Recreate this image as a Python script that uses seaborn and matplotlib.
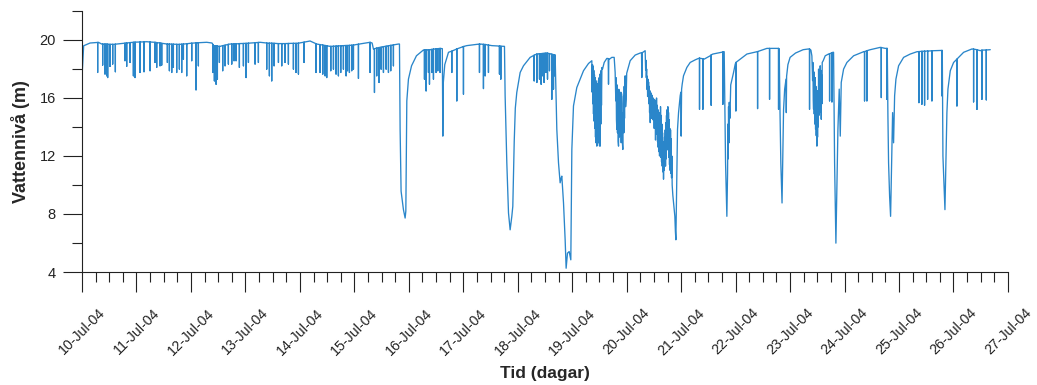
import pandas as pd
import matplotlib
matplotlib.use("Agg")
import matplotlib.pyplot as plt
import matplotlib.dates as mdates
from matplotlib.ticker import FixedLocator
import seaborn as sns

START = pd.Timestamp("2004-07-10")

# Water level trace (day after START, level in metres): slow baseline,
# large drawdowns and the oscillating stretches
trace = [
    (0.000, 17.45), (0.030, 19.60), (0.147, 19.79), (0.300, 19.84), (0.361, 19.72),
    (0.575, 19.70), (0.759, 19.77), (0.943, 19.84), (1.187, 19.88), (1.340, 19.84),
    (1.555, 19.72), (1.800, 19.70), (2.045, 19.79), (2.289, 19.84), (2.387, 19.79),
    (2.412, 19.61), (2.534, 19.56), (2.718, 19.72), (3.024, 19.77), (3.269, 19.84),
    (3.391, 19.79), (3.636, 19.75), (3.942, 19.77), (4.187, 19.93), (4.309, 19.72),
    (4.554, 19.56), (4.983, 19.65), (5.289, 19.84), (5.326, 19.79), (5.350, 19.38),
    (5.473, 19.49), (5.809, 19.72),
    # 15-Jul drawdown
    (5.828, 19.72), (5.840, 13.84), (5.858, 9.57), (5.880, 8.90), (5.901, 8.30),
    (5.932, 7.72), (5.945, 8.20), (5.963, 15.80), (5.993, 17.30), (6.050, 18.22),
    (6.140, 18.91), (6.268, 19.31), (6.391, 19.33), (6.575, 19.42), (6.615, 19.40),
    (6.624, 13.37), (6.632, 17.00), (6.660, 18.30), (6.728, 19.15), (6.881, 19.38),
    (7.064, 19.61), (7.309, 19.72), (7.523, 19.61), (7.738, 19.56),
    # 17-Jul drawdown
    (7.756, 19.56), (7.768, 16.15), (7.799, 11.53), (7.830, 8.07), (7.860, 6.91),
    (7.891, 7.84), (7.909, 8.53), (7.935, 13.00), (7.955, 15.30), (7.982, 16.38),
    (8.044, 17.76), (8.105, 18.22), (8.227, 18.80), (8.350, 19.03), (8.533, 19.10),
    (8.686, 18.96),
    # 18-Jul drawdown
    (8.717, 13.84), (8.748, 11.53), (8.778, 10.15), (8.797, 10.49), (8.809, 10.61),
    (8.821, 9.92), (8.840, 8.76), (8.870, 6.22), (8.888, 4.26), (8.913, 5.30),
    (8.944, 5.41), (8.974, 4.84), (8.993, 12.45), (9.023, 15.45), (9.084, 16.72),
    (9.146, 17.30), (9.207, 17.88), (9.299, 18.38), (9.360, 18.57),
    (9.366, 16.40), (9.372, 18.30), (9.378, 15.60), (9.384, 18.20), (9.390, 14.90),
    (9.396, 17.90), (9.402, 14.40), (9.408, 17.60), (9.414, 13.90), (9.420, 17.40),
    (9.427, 13.30), (9.433, 17.20), (9.439, 12.90), (9.445, 17.00), (9.452, 12.68),
    (9.458, 16.80), (9.464, 13.20), (9.470, 17.00), (9.476, 12.90), (9.482, 17.20),
    (9.488, 13.50), (9.494, 17.40), (9.501, 12.70), (9.507, 17.60), (9.513, 12.68),
    (9.519, 17.70), (9.525, 14.20), (9.531, 17.90), (9.537, 15.50), (9.545, 18.10),
    (9.556, 17.99), (9.587, 18.45), (9.635, 18.73), (9.660, 18.72), (9.666, 16.95),
    (9.672, 18.70), (9.684, 18.68), (9.727, 18.80), (9.770, 18.80), (9.788, 17.76),
    (9.800, 15.80), (9.806, 17.40), (9.812, 14.50), (9.819, 13.84), (9.825, 16.90),
    (9.831, 13.60), (9.837, 16.15), (9.843, 13.00), (9.850, 12.68), (9.856, 16.60),
    (9.862, 13.30), (9.868, 16.38), (9.874, 13.80), (9.880, 16.15), (9.886, 13.40),
    (9.893, 16.40), (9.899, 12.91), (9.905, 16.30), (9.911, 13.20), (9.917, 14.99),
    (9.923, 12.80), (9.929, 12.45), (9.936, 15.60), (9.942, 16.15), (9.948, 13.60),
    (9.954, 16.80), (9.960, 14.60), (9.966, 17.30), (9.972, 17.53), (9.980, 15.40),
    (9.990, 15.91), (10.000, 17.70), (10.021, 17.99), (10.064, 18.57), (10.156, 18.96),
    (10.248, 19.10), (10.272, 19.12), (10.278, 17.41), (10.284, 19.13), (10.297, 19.15),
    (10.339, 19.26),
    # 20-Jul oscillating decline
    (10.348, 17.90), (10.354, 18.60), (10.360, 17.40), (10.366, 18.00), (10.372, 16.60),
    (10.378, 17.50), (10.384, 16.10), (10.390, 17.30), (10.396, 16.30), (10.402, 17.10),
    (10.408, 15.60), (10.414, 16.80), (10.420, 15.00), (10.426, 16.50), (10.432, 14.30),
    (10.438, 16.40), (10.444, 15.20), (10.450, 16.30), (10.456, 14.60), (10.462, 16.20),
    (10.468, 15.00), (10.474, 16.00), (10.480, 14.50), (10.486, 16.00), (10.492, 14.80),
    (10.498, 15.90), (10.505, 13.90), (10.511, 15.90), (10.517, 14.20), (10.523, 15.80),
    (10.529, 13.10), (10.535, 15.60), (10.541, 13.80), (10.548, 16.00), (10.554, 13.50),
    (10.560, 15.50), (10.566, 13.00), (10.572, 15.20), (10.578, 12.60), (10.584, 15.00),
    (10.590, 12.30), (10.597, 14.60), (10.603, 12.00), (10.609, 15.00), (10.615, 12.50),
    (10.621, 15.40), (10.627, 11.90), (10.633, 14.80), (10.640, 11.60), (10.646, 14.20),
    (10.652, 11.30), (10.658, 13.60), (10.664, 10.90), (10.670, 13.00), (10.676, 10.40),
    (10.682, 12.60), (10.689, 11.00), (10.695, 13.30), (10.701, 11.60), (10.707, 13.80),
    (10.713, 11.30), (10.719, 14.30), (10.725, 11.80), (10.731, 14.80), (10.737, 12.50),
    (10.743, 15.20), (10.749, 12.80), (10.756, 15.40), (10.762, 12.40), (10.768, 15.00),
    (10.774, 11.90), (10.780, 14.50), (10.786, 11.40), (10.792, 13.90), (10.798, 11.00),
    (10.805, 13.80), (10.811, 10.80), (10.817, 13.20), (10.823, 10.50), (10.829, 12.00),
    (10.835, 10.00), (10.847, 9.30), (10.860, 8.76), (10.872, 8.30), (10.884, 7.84),
    (10.894, 6.80), (10.903, 6.22), (10.921, 10.61), (10.933, 13.84), (10.952, 14.99),
    (10.982, 16.15), (10.994, 16.40), (11.000, 13.37), (11.008, 16.60), (11.019, 16.95),
    (11.043, 17.53), (11.105, 18.11), (11.166, 18.45), (11.258, 18.63), (11.319, 18.73),
    (11.423, 18.68), (11.533, 18.91), (11.582, 19.03), (11.747, 19.15), (11.790, 19.19),
    # 21-Jul drawdown
    (11.815, 11.53), (11.839, 7.84), (11.852, 10.80), (11.858, 14.20), (11.864, 11.80),
    (11.870, 15.40), (11.876, 12.90), (11.883, 15.70), (11.895, 14.60), (11.910, 16.90),
    (11.962, 17.76), (11.993, 18.34), (12.040, 18.55), (12.084, 18.68), (12.207, 19.03),
    (12.390, 19.19), (12.574, 19.42), (12.758, 19.42),
    # 22-Jul drawdown
    (12.800, 19.38), (12.815, 15.00), (12.830, 11.50), (12.852, 8.76), (12.865, 11.80),
    (12.880, 15.20), (12.900, 16.60), (12.925, 17.30), (12.930, 14.99), (12.936, 17.50),
    (12.960, 18.30), (13.000, 18.80), (13.100, 19.10), (13.240, 19.33), (13.339, 19.38),
    (13.382, 19.30), (13.400, 18.90), (13.413, 17.20), (13.419, 18.45), (13.425, 15.90),
    (13.431, 15.22), (13.437, 17.80), (13.443, 14.90), (13.449, 16.61), (13.455, 14.20),
    (13.462, 17.40), (13.468, 13.84), (13.474, 16.80), (13.480, 13.40), (13.486, 16.15),
    (13.492, 12.68), (13.498, 16.50), (13.504, 13.30), (13.510, 16.15), (13.516, 14.00),
    (13.523, 17.99), (13.529, 14.80), (13.535, 15.45), (13.541, 17.60), (13.547, 15.00),
    (13.553, 18.22), (13.560, 15.30), (13.566, 17.90), (13.572, 14.53), (13.578, 17.60),
    (13.584, 15.60), (13.590, 18.45), (13.608, 18.57), (13.645, 18.91), (13.706, 19.03),
    (13.786, 19.15),
    # 23-Jul drawdown
    (13.798, 19.15), (13.817, 11.53), (13.841, 5.99), (13.859, 9.92), (13.878, 13.84),
    (13.902, 16.61), (13.921, 13.37), (13.939, 17.07), (13.982, 17.99), (14.043, 18.45),
    (14.166, 18.91), (14.349, 19.19), (14.472, 19.33), (14.655, 19.49), (14.747, 19.42),
    (14.784, 19.42),
    # 24-Jul drawdown
    (14.796, 14.76), (14.808, 11.53), (14.827, 9.22), (14.845, 7.84), (14.864, 11.53),
    (14.882, 14.99), (14.900, 12.91), (14.919, 16.15), (14.943, 17.30), (14.992, 18.22),
    (15.084, 18.80), (15.206, 19.03), (15.329, 19.19), (15.635, 19.26), (15.769, 19.28),
    (15.794, 19.28),
    # 25-Jul drawdown
    (15.806, 11.99), (15.824, 10.15), (15.843, 8.30), (15.861, 11.53), (15.879, 14.99),
    (15.898, 16.61), (15.941, 17.88), (16.002, 18.45), (16.051, 18.63), (16.186, 19.15),
    (16.339, 19.38), (16.492, 19.26), (16.675, 19.33),
]

# Short pumping dips: (day, level before the dip, lowest level)
spikes = [
    (0.287, 19.83, 17.76), (0.379, 19.72, 18.27), (0.422, 19.72, 17.65), (0.453, 19.71, 17.53),
    (0.471, 19.71, 17.41), (0.514, 19.70, 18.18), (0.563, 19.70, 18.34), (0.612, 19.71, 17.81),
    (0.789, 19.78, 18.57), (0.820, 19.79, 18.18), (0.881, 19.82, 18.45), (0.943, 19.84, 17.53),
    (0.973, 19.85, 17.41), (1.065, 19.86, 17.76), (1.138, 19.87, 17.81), (1.249, 19.86, 17.88),
    (1.340, 19.84, 18.45), (1.371, 19.82, 18.11), (1.432, 19.79, 18.22), (1.463, 19.77, 18.27),
    (1.567, 19.72, 18.45), (1.604, 19.72, 17.88), (1.647, 19.71, 17.76), (1.677, 19.71, 18.11),
    (1.738, 19.70, 17.76), (1.787, 19.70, 17.99), (1.830, 19.71, 17.76), (1.861, 19.72, 18.68),
    (1.922, 19.74, 17.53), (2.014, 19.78, 18.57), (2.093, 19.80, 16.56), (2.136, 19.81, 18.22),
    (2.400, 19.70, 17.76), (2.430, 19.60, 17.18), (2.461, 19.59, 16.95), (2.485, 19.58, 17.30),
    (2.522, 19.56, 18.45), (2.583, 19.61, 17.88), (2.626, 19.64, 18.22), (2.687, 19.70, 18.34),
    (2.749, 19.72, 18.34), (2.791, 19.73, 18.57), (2.828, 19.73, 18.57), (2.889, 19.75, 18.11),
    (2.963, 19.76, 18.22), (3.012, 19.77, 17.41), (3.055, 19.78, 18.45), (3.177, 19.81, 18.34),
    (3.238, 19.83, 18.45), (3.391, 19.79, 17.99), (3.440, 19.78, 17.53), (3.483, 19.78, 17.18),
    (3.526, 19.77, 18.22), (3.606, 19.75, 18.45), (3.667, 19.75, 18.22), (3.728, 19.75, 18.45),
    (3.789, 19.76, 18.34), (3.881, 19.77, 17.99), (3.930, 19.77, 17.76), (3.973, 19.78, 17.65),
    (4.077, 19.85, 18.45),
    (4.297, 19.74, 17.76), (4.371, 19.68, 17.76), (4.420, 19.65, 17.65), (4.463, 19.62, 17.53),
    (4.493, 19.60, 17.41), (4.567, 19.56, 17.88), (4.616, 19.57, 17.99), (4.664, 19.58, 17.65),
    (4.707, 19.59, 17.53), (4.750, 19.60, 17.76), (4.799, 19.61, 17.99), (4.848, 19.62, 17.53),
    (4.873, 19.62, 17.88), (4.909, 19.63, 17.76), (4.952, 19.64, 17.88), (4.983, 19.65, 17.99),
    (5.075, 19.71, 17.35), (5.289, 19.84, 17.76), (5.369, 19.40, 16.38), (5.411, 19.44, 17.53),
    (5.454, 19.48, 17.07), (5.491, 19.50, 17.99), (5.534, 19.54, 17.76), (5.583, 19.57, 17.99),
    (5.626, 19.60, 17.76), (5.668, 19.63, 17.88), (5.717, 19.66, 18.22),
    (6.287, 19.31, 17.30), (6.317, 19.32, 16.49), (6.360, 19.32, 17.76), (6.379, 19.33, 16.95),
    (6.421, 19.35, 17.76), (6.452, 19.37, 17.30), (6.501, 19.39, 17.76), (6.532, 19.40, 17.88),
    (6.575, 19.42, 17.76), (6.789, 19.23, 17.76), (6.881, 19.38, 15.80), (7.003, 19.55, 16.26),
    (7.297, 19.72, 17.76), (7.370, 19.70, 16.65), (7.401, 19.69, 17.53), (7.462, 19.65, 17.76),
    (7.664, 19.58, 17.65), (7.689, 19.57, 17.30),
    (8.301, 18.95, 17.18), (8.350, 19.03, 17.07), (8.399, 19.05, 17.30), (8.429, 19.06, 16.95),
    (8.460, 19.07, 17.53), (8.484, 19.08, 17.07), (8.515, 19.09, 17.76), (8.546, 19.09, 17.30),
    (8.582, 19.06, 17.88), (8.625, 19.02, 15.91), (8.656, 18.99, 16.61), (8.680, 18.97, 17.53),
    (11.337, 18.75, 15.22), (11.398, 18.70, 15.22), (11.551, 18.97, 15.50), (11.766, 19.17, 15.57),
    (12.005, 18.45, 15.11), (12.403, 19.20, 15.27), (12.623, 19.42, 15.91), (12.788, 19.42, 15.22),
    (13.357, 19.38, 15.22), (13.725, 19.05, 15.80), (13.768, 19.12, 15.73),
    (14.367, 19.20, 15.80), (14.410, 19.26, 15.80), (14.674, 19.48, 16.03), (14.778, 19.42, 15.91),
    (15.365, 19.20, 15.68), (15.420, 19.22, 15.57), (15.469, 19.23, 15.50), (15.525, 19.24, 15.91),
    (15.604, 19.25, 15.80), (15.788, 19.28, 16.15),
    (16.063, 18.68, 15.45), (16.369, 19.37, 15.73), (16.431, 19.33, 15.22), (16.522, 19.30, 15.91),
    (16.602, 19.31, 15.87),
]

y_major = [4, 8, 12, 16, 20]
y_minor = [6, 10, 14, 18, 22]

sns.set_style("ticks")
plt.rcParams["font.family"] = ["Liberation Sans", "DejaVu Sans"]

# One continuous series: each dip goes down and back up at its own timestamp
rows = [(d, lv, 0) for d, lv in trace]
for d, top, low in spikes:
    rows += [(d, top, 0), (d, low, 1), (d, top, 2)]
df = pd.DataFrame(rows, columns=["day", "level", "seq"])
df = df.sort_values(["day", "seq"], kind="stable").reset_index(drop=True)
df["time"] = START + pd.to_timedelta(df["day"], unit="D")

fig = plt.figure(figsize=(10.37, 3.85), dpi=100)
ax = fig.add_axes([0.0791, 0.2935, 0.8929, 0.678])
sns.lineplot(data=df, x="time", y="level", estimator=None, sort=False,
             color="#2a86ca", linewidth=0.95, ax=ax)

ax.set_xlim(START, START + pd.Timedelta(days=17))
ax.set_ylim(4, 22)
ax.xaxis.set_major_locator(mdates.DayLocator())
ax.xaxis.set_major_formatter(mdates.DateFormatter("%d-%b-%y"))
ax.xaxis.set_minor_locator(mdates.HourLocator(byhour=[6, 12, 18]))
ax.yaxis.set_major_locator(FixedLocator(y_major))
ax.yaxis.set_minor_locator(FixedLocator(y_minor))

ax.tick_params(axis="x", which="major", length=14.4, width=0.8, pad=10,
               labelsize=10.2, labelrotation=45, colors="#222222")
ax.tick_params(axis="x", which="minor", length=7.2, width=0.8, colors="#222222")
ax.tick_params(axis="y", which="major", length=14, width=0.8, pad=5,
               labelsize=10.5, colors="#222222")
ax.tick_params(axis="y", which="minor", length=7.2, width=0.8, colors="#222222")
for lab in ax.get_xticklabels():
    lab.set_ha("center")

sns.despine(ax=ax)
for sp in ("left", "bottom"):
    ax.spines[sp].set_color("#222222")
    ax.spines[sp].set_linewidth(0.8)

ax.set_xlabel("Tid (dagar)", fontsize=12.5, fontweight="bold", labelpad=6)
ax.set_ylabel("Vattennivå (m)", fontsize=13, fontweight="bold", labelpad=7)

fig.savefig("out.png", dpi=100)
